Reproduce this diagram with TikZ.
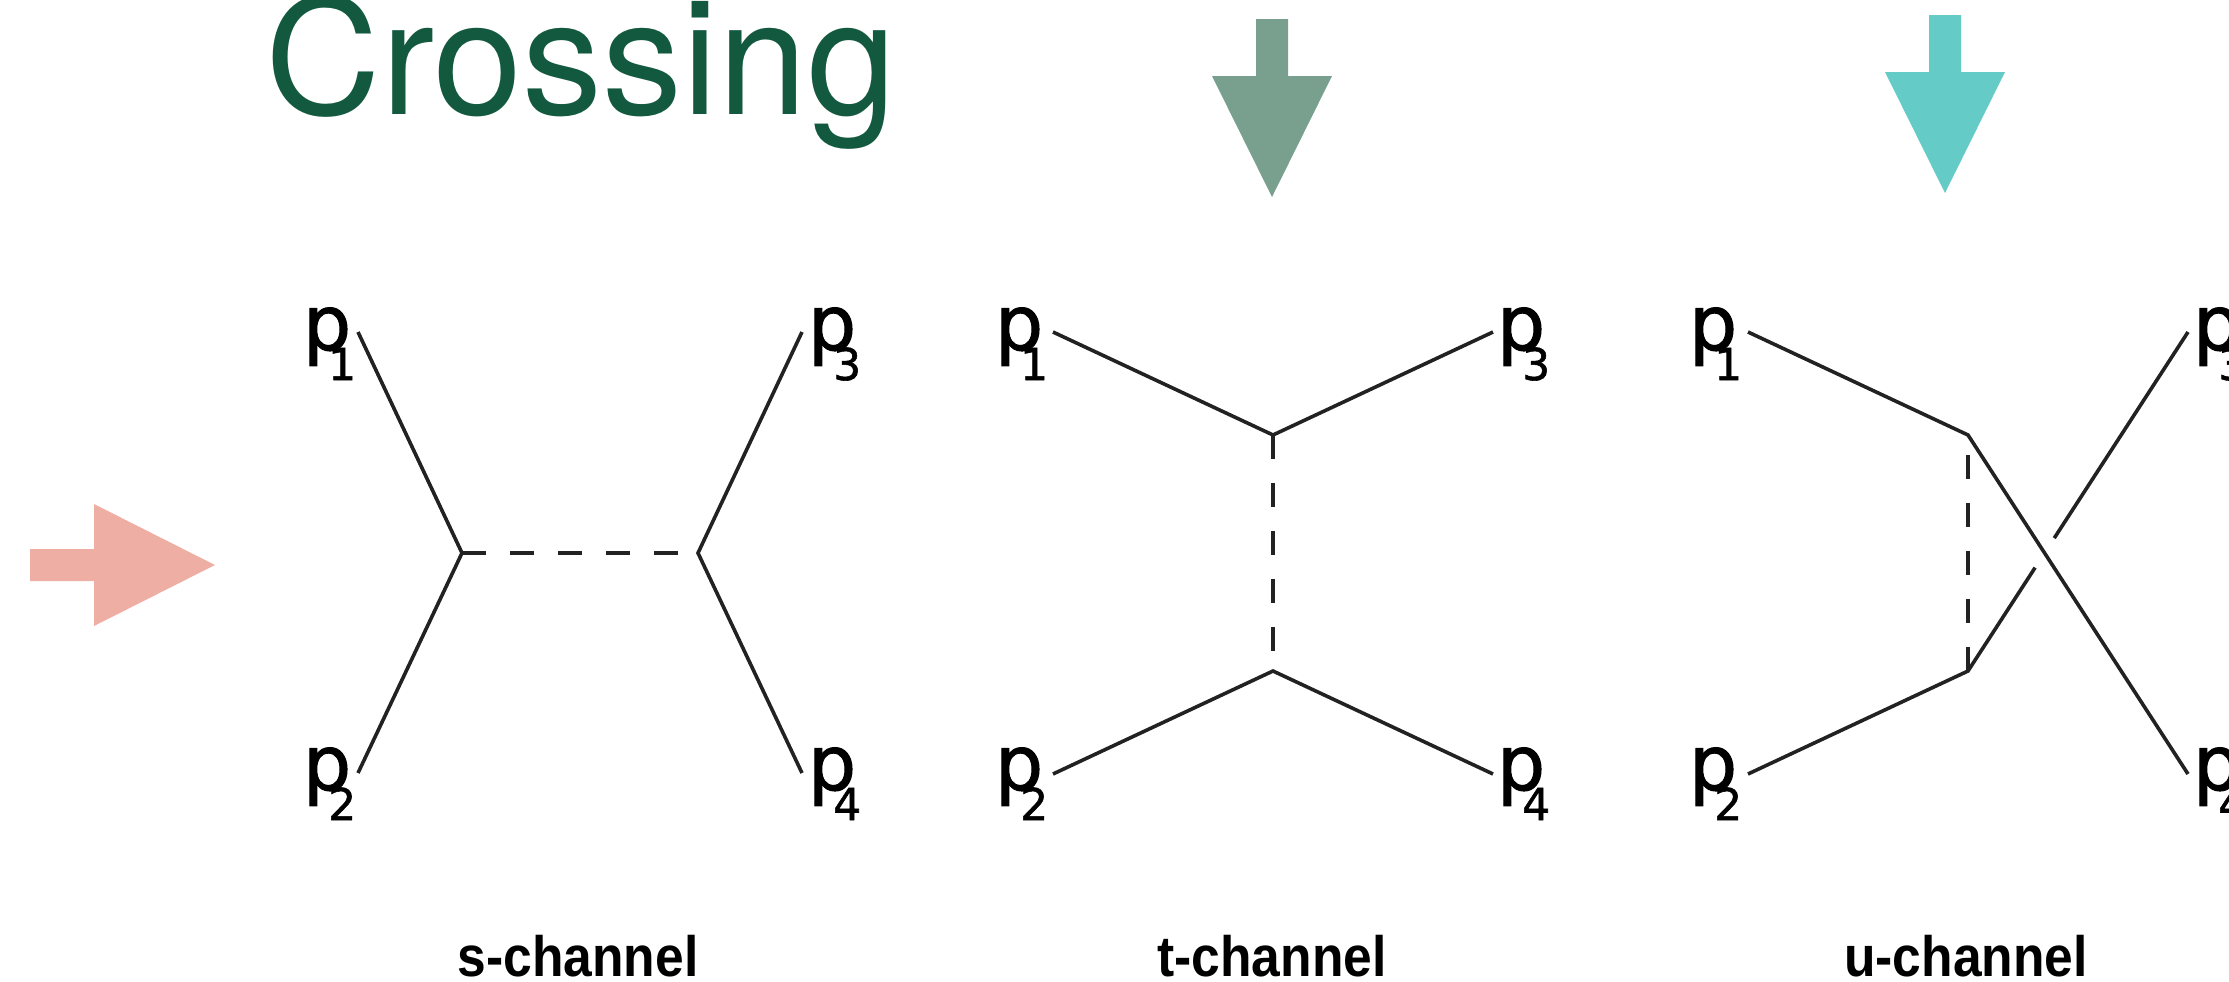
\documentclass[tikz,border=0pt]{standalone}
\usepackage{graphicx}
\usepackage{fontspec}
\setmainfont{Liberation Sans}
\newfontfamily\titlefont{TeX Gyre Heros}
\newfontfamily\dvfont{DejaVu Sans}[FakeBold=1.3]
\usetikzlibrary{calc}
\definecolor{titlegreen}{RGB}{19,89,64}
\definecolor{arrowpink}{RGB}{239,174,164}
\definecolor{arrowgreen}{RGB}{121,160,143}
\definecolor{arrowcyan}{RGB}{100,203,199}
\definecolor{linegray}{RGB}{34,34,34}
\newcommand\plab[1]{{\dvfont\fontsize{21.6pt}{21.6pt}\selectfont p}\kern-0.23cm\raisebox{-0.30cm}{\dvfont\fontsize{12.5pt}{12.5pt}\selectfont #1}}
\tikzset{
  leg/.style={draw=linegray, line width=0.036cm},
  prop/.style={draw=linegray, line width=0.042cm, dash pattern=on 0.24cm off 0.24cm},
  plabel/.style={anchor=base west, inner sep=0pt, outer sep=0pt, text=black},
  chan/.style={anchor=base, inner sep=0pt, outer sep=0pt, font=\bfseries\fontsize{16.2pt}{16.2pt}\selectfont},
  bigarrow/.style={draw=none}
}
\begin{document}
\begin{tikzpicture}[x=0.01cm, y=-0.01cm]
\useasboundingbox (0,0) rectangle (2229,981);
\clip (0,0) rectangle (2229,981);

% title
\node[anchor=base west, inner sep=0pt, text=titlegreen, font=\titlefont\fontsize{45.5pt}{45.5pt}\selectfont] (title) at (265,114) {Crossing};

% arrows
\fill[arrowpink, bigarrow] (30,549) -- (94,549) -- (94,504) -- (215,565) -- (94,626) -- (94,581) -- (30,581) -- cycle;
\fill[arrowgreen, bigarrow] (1256,19) -- (1288,19) -- (1288,76) -- (1332,76) -- (1272,197) -- (1212,76) -- (1256,76) -- cycle;
\fill[arrowcyan, bigarrow] (1929,15) -- (1961,15) -- (1961,72) -- (2005,72) -- (1945,193) -- (1885,72) -- (1929,72) -- cycle;

% ---------- s-channel ----------
\coordinate (sE1) at (358,332);
\coordinate (sE2) at (358,773);
\coordinate (sE3) at (802,332);
\coordinate (sE4) at (802,773);
\coordinate (sV1) at (462,553);
\coordinate (sV2) at (698,553);
\node[plabel] (s1) at (303,350) {\plab{1}};
\node[plabel] (s2) at (303,790) {\plab{2}};
\node[plabel] (s3) at (808,350) {\plab{3}};
\node[plabel] (s4) at (808,790) {\plab{4}};
\draw[leg] (sE1) -- (sV1) -- (sE2);
\draw[leg] (sE3) -- (sV2) -- (sE4);
\draw[prop] (sV1) -- (sV2);
\node[chan] (slab) at (578,976) {\scalebox{0.905}[1]{s-channel}};

% ---------- t-channel ----------
\coordinate (tE1) at (1053,332);
\coordinate (tE2) at (1053,774);
\coordinate (tE3) at (1493,332);
\coordinate (tE4) at (1493,774);
\coordinate (tV1) at (1273,435);
\coordinate (tV2) at (1273,671);
\node[plabel] (t1) at (995,350) {\plab{1}};
\node[plabel] (t2) at (995,790) {\plab{2}};
\node[plabel] (t3) at (1497,350) {\plab{3}};
\node[plabel] (t4) at (1497,790) {\plab{4}};
\draw[leg] (tE1) -- (tV1) -- (tE3);
\draw[leg] (tE2) -- (tV2) -- (tE4);
\draw[prop] (tV1) -- (tV2);
\node[chan] (tlab) at (1272,976) {\scalebox{0.905}[1]{t-channel}};

% ---------- u-channel ----------
\coordinate (uE1) at (1748,332);
\coordinate (uE2) at (1748,774);
\coordinate (uE3) at (2188,332);
\coordinate (uE4) at (2188,774);
\coordinate (uV1) at (1968,435);
\coordinate (uV2) at (1968,671);
\node[plabel] (u1) at (1689,350) {\plab{1}};
\node[plabel] (u2) at (1689,790) {\plab{2}};
\node[plabel] (u3) at (2193,350) {\plab{3}};
\node[plabel] (u4) at (2193,790) {\plab{4}};
\draw[leg] (uE1) -- (uV1) -- (uE4);
\draw[leg] (uE2) -- (uV2) -- ($(uV2)!0.305!(uE3)$);
\draw[leg] ($(uV2)!0.392!(uE3)$) -- (uE3);
\draw[prop] (uV2) -- (uV1);
\node[chan] (ulab) at (1966,976) {\scalebox{0.905}[1]{u-channel}};
\end{tikzpicture}
\end{document}
